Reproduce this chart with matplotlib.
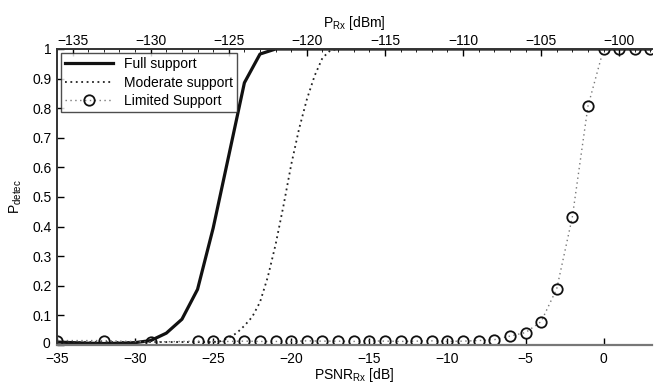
import numpy as np
import matplotlib
matplotlib.use("Agg")
import matplotlib.pyplot as plt
import matplotlib.transforms as mtransforms
from matplotlib.ticker import MultipleLocator

plt.rcParams["font.family"] = ["Liberation Sans", "DejaVu Sans"]
plt.rcParams["mathtext.default"] = "regular"

# Full support (solid)
full_x = [-35, -34, -33, -32, -31, -30, -29, -28, -27, -26, -25, -24, -23, -22, -21, -20, -15, -10, -5, 0, 3]
full_y = [0.010, 0.008, 0.006, 0.005, 0.006, 0.008, 0.015, 0.040, 0.087, 0.188, 0.395, 0.640, 0.886, 0.983, 1.0, 1.0, 1.0, 1.0, 1.0, 1.0, 1.0]

# Moderate support (dotted)
mod_x = [-35, -30, -26, -25, -24.5, -24, -23.5, -23, -22.5, -22, -21.5, -21, -20.5, -20, -19.5, -19, -18.5, -18, -17.5, -17, -10, 0, 3]
mod_y = [0.010, 0.010, 0.010, 0.010, 0.013, 0.025, 0.040, 0.065, 0.095, 0.145, 0.230, 0.340, 0.470, 0.610, 0.730, 0.830, 0.910, 0.970, 0.995, 1.0, 1.0, 1.0, 1.0]

# Limited support (dotted + circles)
lim_x = [-35, -32, -29, -26, -25, -24, -23, -22, -21, -20, -19, -18, -17, -16, -15, -14, -13, -12,
         -11, -10, -9, -8, -7, -6, -5, -4, -3, -2, -1, 0, 1, 2, 3]
lim_y = [0.015, 0.015, 0.010, 0.013, 0.012, 0.012, 0.013, 0.012, 0.012, 0.012, 0.014, 0.013, 0.013, 0.012, 0.014, 0.013, 0.012, 0.013,
         0.014, 0.012, 0.013, 0.015, 0.018, 0.030, 0.042, 0.079, 0.190, 0.433, 0.807, 1.0, 1.0, 1.0, 1.0]

fig = plt.figure(figsize=(6.55, 3.9), dpi=100)
ax = fig.add_axes([57 / 655, 1 - 345 / 390, (652 - 57) / 655, (345 - 49) / 390])

ax.plot(full_x, full_y, color="#111111", lw=2.3, label="Full support")
ax.plot(mod_x, mod_y, color="#222222", lw=1.3, ls=(0, (1, 2)), label="Moderate support")
ax.plot(lim_x, lim_y, color="#777777", lw=1.0, ls=(0, (1, 2.5)), marker="o", ms=7.5,
        mfc="none", mec="#111111", mew=1.3, label="Limited Support")

ax.set_xlim(-35, 3.1)
ax.set_ylim(0, 1)
ax.set_yticks(np.arange(0, 1.01, 0.1))
ax.set_yticklabels(["0", "0.1", "0.2", "0.3", "0.4", "0.5", "0.6", "0.7", "0.8", "0.9", "1"])
ax.set_xticks([-35, -30, -25, -20, -15, -10, -5, 0])
ax.set_xticklabels(["\u221235", "\u221230", "\u221225", "\u221220", "\u221215", "\u221210", "\u22125", "0"])
ax.tick_params(direction="in", length=5, width=1, labelsize=10)
ax.tick_params(axis="x", pad=5)
ax.tick_params(axis="y", pad=4)

# lift the "0" y label a touch so it clears the "-35" below it
zero_lbl = ax.get_yticklabels()[0]
zero_lbl.set_transform(zero_lbl.get_transform() +
                       mtransforms.ScaledTranslation(-1 / 100, 3 / 100, fig.dpi_scale_trans))

ax.spines["right"].set_visible(False)
ax.spines["left"].set_linewidth(1.4)
ax.spines["left"].set_color("#333333")
ax.spines["bottom"].set_linewidth(1.6)
ax.spines["bottom"].set_color("#777777")
ax.spines["top"].set_linewidth(1.4)
ax.spines["top"].set_color("#333333")

ax.set_xlabel("PSNR$_{Rx}$ [dB]", fontsize=10, labelpad=0)
ax.set_ylabel("P$_{detec}$", fontsize=10, labelpad=6)

top = ax.secondary_xaxis("top", functions=(lambda x: x - 101, lambda x: x + 101))
top.set_xticks([-135, -130, -125, -120, -115, -110, -105, -100])
top.set_xticklabels(["\u2212135", "\u2212130", "\u2212125", "\u2212120", "\u2212115", "\u2212110", "\u2212105", "\u2212100"])
top.xaxis.set_minor_locator(MultipleLocator(1))
top.tick_params(which="major", direction="in", length=5, width=1, labelsize=10, pad=1)
top.tick_params(which="minor", direction="in", length=2, width=0.6)
top.set_xlabel("P$_{Rx}$ [dBm]", fontsize=10, labelpad=5)
top.spines["top"].set_visible(False)

leg = ax.legend(loc="upper left", fontsize=10, frameon=True, fancybox=False,
                edgecolor="#222222", borderpad=0.3, handlelength=3.4,
                labelspacing=0.3, borderaxespad=0.3)
leg.get_frame().set_linewidth(1.0)

fig.savefig("out.png", dpi=100)
